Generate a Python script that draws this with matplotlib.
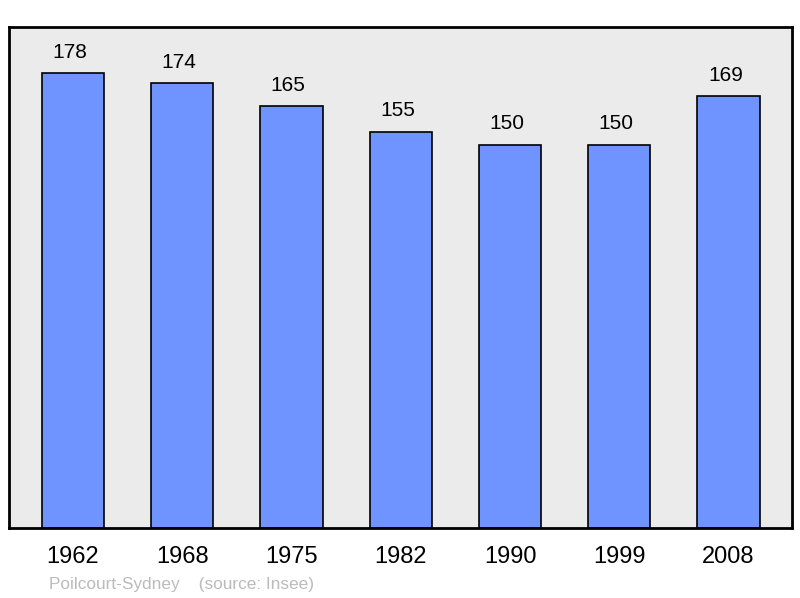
import matplotlib.pyplot as plt

years = ['1962', '1968', '1975', '1982', '1990', '1999', '2008']
population = [178, 174, 165, 155, 150, 150, 169]

plt.rcParams['font.family'] = ['Liberation Sans', 'DejaVu Sans']

fig = plt.figure(figsize=(8, 5.98), dpi=100)
ax = fig.add_axes([9 / 800, 70 / 598, 783 / 800, 501 / 598])
ax.set_facecolor('#ebebeb')

x = range(len(years))
ax.bar(x, population, width=0.57, color='#7094ff', edgecolor='black', linewidth=1.2, zorder=2)
for i, v in enumerate(population):
    ax.text(i - 0.03, v + 4.5, str(v), ha='center', va='bottom', fontsize=15)

ax.set_xlim(-0.585, 6.58)
ax.set_ylim(0, 196)
ax.set_yticks([])
ax.set_xticks(list(x))
ax.set_xticklabels(years, fontsize=17)
ax.tick_params(axis='x', length=0, pad=13)
for s in ax.spines.values():
    s.set_linewidth(2)

fig.text(49 / 800, 1 - 584 / 598, 'Poilcourt-Sydney    (source: Insee)', fontsize=12.4,
         color='#bbbbbb', ha='left', va='center')

fig.savefig('out.png', dpi=100)
